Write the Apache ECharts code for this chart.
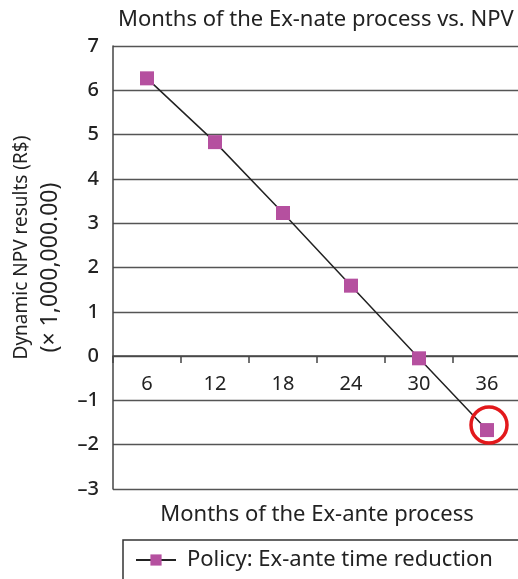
<!DOCTYPE html>
<html>
<head>
<meta charset="utf-8">
<script src="https://cdn.jsdelivr.net/npm/echarts@6/dist/echarts.min.js"></script>
<style>html,body{margin:0;padding:0;background:#fff;}#c{width:518px;height:579px;}</style>
</head>
<body>
<div id="c"></div>
<script>
var categories = ['6', '12', '18', '24', '30', '36'];
var npvValues = [6.27, 4.83, 3.23, 1.59, -0.05, -1.67];
var seriesName = 'Policy: Ex-ante time reduction';
var yMin = -3, yMax = 7, yStep = 1;
var highlightIndex = 5;

var FONT = '"Noto Sans", sans-serif';
var chart = echarts.init(document.getElementById('c'), null, {renderer: 'canvas'});
function dash(v) { return String(v).replace('-', '\u2013'); }
var option = {
  animation: false,
  backgroundColor: '#fff',
  title: {
    text: 'Months of the Ex-nate process vs. NPV',
    left: 113, top: 4,
    textStyle: {fontFamily: FONT, fontSize: 22, fontWeight: 'normal', color: '#222'}
  },
  grid: {left: 113, top: 46, right: -3, bottom: 90, containLabel: false, outerBoundsMode: 'none'},
  legend: {
    left: 123, top: 540,
    padding: [9, 80, 30, 12],
    borderColor: '#333', borderWidth: 1.5, borderRadius: 0,
    itemWidth: 40, itemHeight: 14, itemGap: 10,
    textStyle: {fontFamily: FONT, fontSize: 22, color: '#222', padding: [0, 0, 0, 6]},
    data: [seriesName]
  },
  xAxis: {
    type: 'category',
    data: categories,
    boundaryGap: true,
    name: 'Months of the Ex-ante process',
    nameLocation: 'middle',
    nameGap: 15,
    nameTextStyle: {fontFamily: FONT, fontSize: 22, color: '#222'},
    axisLine: {onZero: true, lineStyle: {color: '#444', width: 1.5}},
    axisTick: {show: true, length: 7, lineStyle: {color: '#444', width: 1.5}},
    axisLabel: {fontFamily: FONT, fontSize: 20, color: '#222', margin: 18}
  },
  yAxis: {
    type: 'value',
    min: yMin, max: yMax, interval: yStep,
    name: '{a|Dynamic NPV results (R$)}\n{b|(\u00d7 1,000,000.00)}',
    nameLocation: 'middle',
    nameGap: 48,
    nameRotate: 90,
    nameTextStyle: {
      fontFamily: FONT, fontSize: 19, color: '#222', lineHeight: 26,
      rich: {
        a: {fontFamily: FONT, fontSize: 19, color: '#222', lineHeight: 26, padding: [0, 0, 0, 40]},
        b: {fontFamily: FONT, fontSize: 23, color: '#222', lineHeight: 30}
      }
    },
    axisLine: {show: true, lineStyle: {color: '#444', width: 1.5}},
    axisTick: {show: false},
    axisLabel: {fontFamily: FONT, fontSize: 20, color: '#222', margin: 14, fontWeight: 500, formatter: dash},
    splitLine: {show: true, lineStyle: {color: '#555', width: 1.3}}
  },
  series: [{
    name: seriesName,
    type: 'line',
    data: npvValues,
    symbol: 'rect',
    symbolSize: 14,
    itemStyle: {color: '#b5509f'},
    lineStyle: {color: '#222', width: 1.5},
    markPoint: {
      symbol: 'circle',
      symbolSize: 36,
      symbolOffset: [2, -5],
      silent: true,
      label: {show: false},
      itemStyle: {color: 'rgba(0,0,0,0)', borderColor: '#e3191c', borderWidth: 3.5},
      data: [{coord: [highlightIndex, npvValues[highlightIndex]]}]
    }
  }]
};
chart.setOption(option);
// place x-axis labels at the zero line using the library's own scale
var zeroY = chart.convertToPixel({yAxisIndex: 0}, 0);
var bottomY = chart.convertToPixel({yAxisIndex: 0}, yMin);
chart.setOption({
  xAxis: {
    offset: -(bottomY - zeroY),
    axisLine: {onZero: false},
    nameGap: 15 + (bottomY - zeroY)
  }
});
</script>
</body>
</html>
